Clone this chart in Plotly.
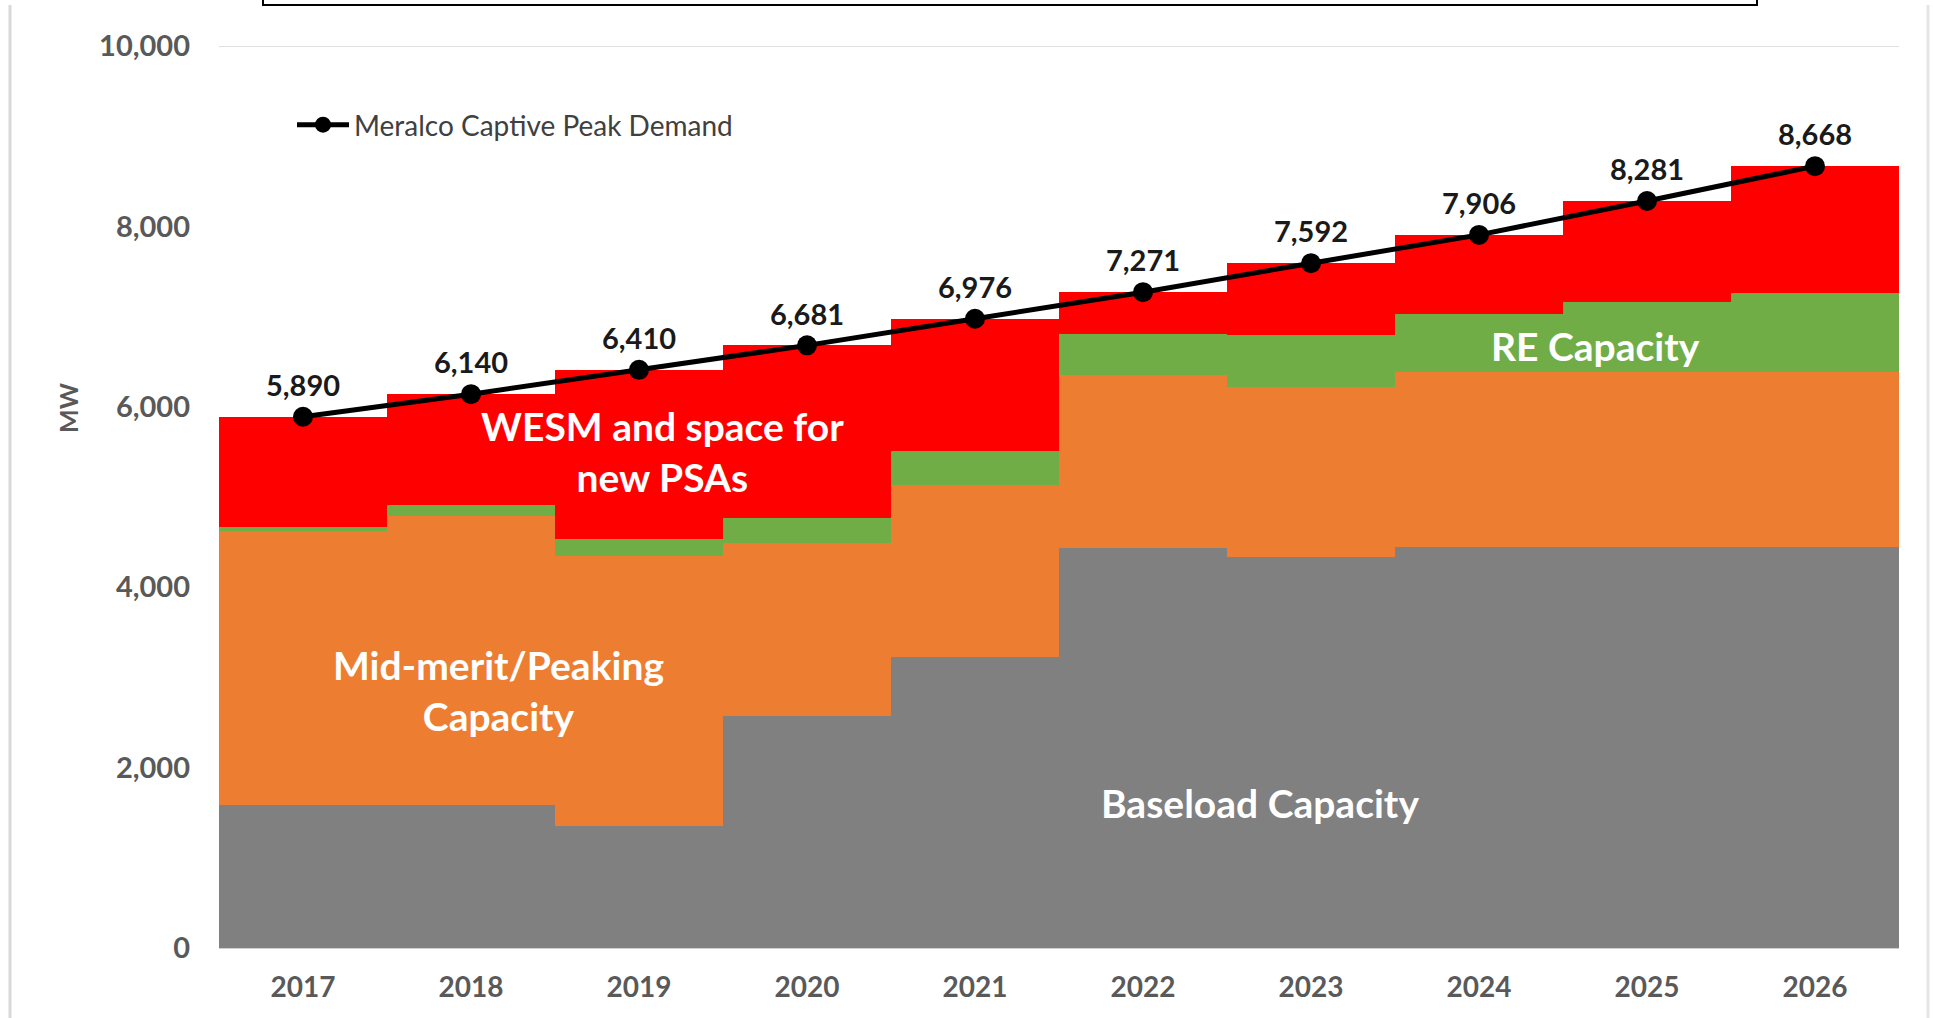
import plotly.graph_objects as go

years = ["2017", "2018", "2019", "2020", "2021", "2022", "2023", "2024", "2025", "2026"]
baseload = [1590, 1590, 1355, 2570, 3230, 4440, 4330, 4450, 4450, 4450]
midmerit = [3035, 3195, 2995, 1915, 1905, 1910, 1895, 1935, 1935, 1935]
re_cap = [40, 125, 185, 280, 375, 455, 575, 645, 775, 880]
wesm = [1225, 1230, 1875, 1916, 1466, 466, 792, 876, 1121, 1403]
peak = [5890, 6140, 6410, 6681, 6976, 7271, 7592, 7906, 8281, 8668]
peak_labels = ["5,890", "6,140", "6,410", "6,681", "6,976", "7,271", "7,592", "7,906", "8,281", "8,668"]
y_ticks = [0, 2000, 4000, 6000, 8000, 10000]
y_tick_text = ["0", "2,000", "4,000", "6,000", "8,000", "10,000"]

FONT = "Lato"
W, H = 1933, 1018
L, R, T, B = 219, 34, 46, 70

fig = go.Figure()
for name, vals, col in [
    ("Baseload Capacity", baseload, "#808080"),
    ("Mid-merit/Peaking Capacity", midmerit, "#ED7D31"),
    ("RE Capacity", re_cap, "#70AD47"),
    ("WESM and space for new PSAs", wesm, "#FF0000"),
]:
    fig.add_trace(go.Bar(x=years, y=vals, name=name, marker=dict(color=col, line=dict(width=0)),
                         showlegend=False, hoverinfo="skip"))

fig.add_trace(go.Scatter(
    x=years, y=peak, name="Meralco Captive Peak Demand", mode="lines+markers+text",
    line=dict(color="#000000", width=5), marker=dict(color="#000000", size=20),
    text=peak_labels, textposition="top center",
    textfont=dict(family=FONT, size=29, color="#1a1a1a", weight="bold"),
    showlegend=True,
))

def px_x(px):
    return (px - L) / (W - L - R)

def px_y(py):
    return (H - B - py) / (H - T - B)

ann_font = dict(family=FONT, size=39, color="#ffffff", weight="bold")
common = dict(xref="paper", yref="paper", showarrow=False, xanchor="center", yanchor="middle")
annotations = [
    dict(text="WESM and space for<br>new PSAs", x=px_x(662), y=px_y(451), font=ann_font, align="center", **common),
    dict(text="Mid-merit/Peaking<br>Capacity", x=px_x(498), y=px_y(690), font=ann_font, align="center", **common),
    dict(text="Baseload Capacity", x=px_x(1260), y=px_y(803), font=ann_font, **common),
    dict(text="RE Capacity", x=px_x(1595), y=px_y(346), font=ann_font, **common),
    dict(text="MW", x=px_x(68), y=px_y(408), textangle=-90,
         font=dict(family=FONT, size=25, color="#595959", weight="bold"), **common),
]

shapes = [
    dict(type="rect", xref="paper", yref="paper", x0=px_x(263), x1=px_x(1757), y0=px_y(5), y1=px_y(-20),
         line=dict(color="#000000", width=2), fillcolor="rgba(0,0,0,0)"),
    dict(type="line", xref="paper", yref="paper", x0=px_x(10), x1=px_x(10), y0=px_y(1018), y1=px_y(5),
         line=dict(color="#d9d9d9", width=3)),
    dict(type="line", xref="paper", yref="paper", x0=px_x(1928), x1=px_x(1928), y0=px_y(1018), y1=px_y(5),
         line=dict(color="#e6e6e6", width=3)),
]

fig.update_layout(
    width=W, height=H,
    margin=dict(l=L, r=R, t=T, b=B, autoexpand=False),
    barmode="stack", bargap=0,
    plot_bgcolor="#ffffff", paper_bgcolor="#ffffff",
    font=dict(family=FONT),
    annotations=annotations,
    shapes=shapes,
    legend=dict(x=px_x(292), y=px_y(125), xanchor="left", yanchor="middle",
                bgcolor="rgba(0,0,0,0)", font=dict(family=FONT, size=28, color="#404040"),
                itemwidth=52),
    xaxis=dict(type="category", range=[-0.5, 9.5], automargin=False, showgrid=False, showline=False,
               zeroline=False, tickfont=dict(family=FONT, size=28, color="#595959", weight="bold"),
               ticks="", ticklabelstandoff=20),
    yaxis=dict(range=[0, 10000], tickvals=y_ticks, ticktext=y_tick_text, automargin=False,
               showgrid=False, zeroline=True, zerolinecolor="#d0d0d0", zerolinewidth=2, showline=False,
               tickfont=dict(family=FONT, size=29, color="#595959", weight="bold"),
               ticklabelstandoff=28),
)
fig.add_hline(y=10000, line=dict(color="#e0e0e0", width=2), layer="below")

fig.write_html("out.html")
